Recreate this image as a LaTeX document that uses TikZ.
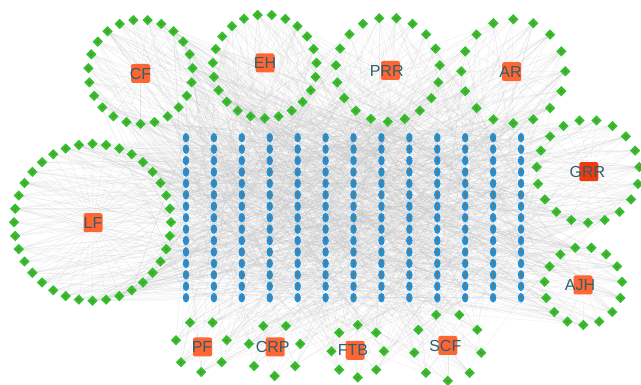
\documentclass[tikz,border=0pt]{standalone}
\usepackage{fontspec}
\setmainfont{Liberation Sans}
\usetikzlibrary{shapes.geometric}
\pgfdeclarelayer{edges}
\pgfsetlayers{edges,main}
\definecolor{hubfill}{HTML}{FF6633}
\definecolor{hubred}{HTML}{F23A0E}
\definecolor{leaf}{HTML}{2EC22E}
\definecolor{gene}{HTML}{1E90DC}
\definecolor{labeltext}{HTML}{2F5F6B}
\definecolor{tick}{HTML}{9A6B2E}
\definecolor{edgegray}{HTML}{C4C4C4}
\begin{document}
\begin{tikzpicture}[x=1pt,y=-1pt,
  edge/.style={draw=edgegray, line width=0.25pt, opacity=0.38},
  hub/.style={rectangle, rounded corners=2pt, fill=hubfill, minimum size=19pt, inner sep=0pt},
  hublabel/.style={text=labeltext, font=\fontsize{16}{17}\selectfont, inner sep=0pt},
  leafnode/.style={diamond, fill=leaf, minimum size=10.5pt, inner sep=0pt,
    path picture={\draw[tick, line width=0.6pt]
      ([xshift=-1.4pt,yshift=1.3pt]path picture bounding box.center) --
      ([yshift=-1.4pt]path picture bounding box.center) --
      ([xshift=1.4pt,yshift=1.3pt]path picture bounding box.center);}},
  genenode/.style={ellipse, fill=gene, minimum width=6.5pt, minimum height=9.5pt, inner sep=0pt,
    path picture={\draw[tick, line width=0.5pt]
      ([xshift=-1pt,yshift=1.7pt]path picture bounding box.center) --
      ([xshift=1pt,yshift=1.7pt]path picture bounding box.center);
      \draw[tick, line width=0.5pt]
      ([yshift=1.7pt]path picture bounding box.center) --
      ([yshift=-1.9pt]path picture bounding box.center);}}]
\pgfmathsetseed{7}
\useasboundingbox (0,0) rectangle (641,385);
\begin{pgfonlayer}{edges}
  \fill[white] (0,0) rectangle (641,385);
\end{pgfonlayer}

% grid of gene nodes
\foreach \i in {0,...,12}{
  \foreach \j in {0,...,14}{
    \node[genenode] (g\i-\j) at ({186+27.92*\i},{137.7+11.43*\j}) {};
  }
}

% hubs with their rings of leaves
\foreach \name/\bx/\by/\tx/\cx/\cy/\r/\n/\off/\col in {
  CF/140.5/73.5/140.5/140.5/71.8/52.2/23/0/hubfill,
  EH/265/63/265/264.7/66.4/51.9/23/23/hubfill,
  PRR/390.5/70.5/386.7/387.8/69.6/52.1/19/46/hubfill,
  AR/511.7/71.7/510.5/513.3/71.3/52/16/65/hubfill,
  GRR/588.8/171.7/587.5/588/171.3/51.5/19/81/hubred,
  LF/93/222.7/93/92.5/222.3/78.5/36/100/hubfill,
  AJH/583/285/580/583.3/285.9/39/15/136/hubfill,
  PF/202.5/347/202/201.3/346/26/7/151/hubfill,
  CRP/275.2/347/272.7/274.6/349.7/26.3/7/158/hubfill,
  FTB/355.2/350.3/353/357.7/351.2/26.2/8/165/hubfill,
  SCF/447.8/345.5/445.3/447.8/346.8/34/9/173/hubfill}{
  \node[hub, fill=\col] (\name) at (\bx,\by) {};
  \node[hublabel] (\name-t) at (\tx,\by) {\name};
  \foreach \k in {1,...,\n}{
    \pgfmathtruncatemacro\idx{\off+\k}
    \node[leafnode] (d\idx) at ({\cx+\r*cos(90+(\k-1)*360/\n)},{\cy+\r*sin(90+(\k-1)*360/\n)}) {};
    \begin{pgfonlayer}{edges}
      \draw[edge] (\name) -- (d\idx);
    \end{pgfonlayer}
  }
}

% interactions between genes and leaves
\begin{pgfonlayer}{edges}
\foreach \i in {0,...,12}{
  \foreach \j in {0,...,14}{
    \foreach \m in {1,...,8}{
      \pgfmathrandominteger{\tgt}{1}{182}
      \draw[edge] (g\i-\j) -- (d\tgt);
    }
  }
}
\end{pgfonlayer}
\end{tikzpicture}
\end{document}
